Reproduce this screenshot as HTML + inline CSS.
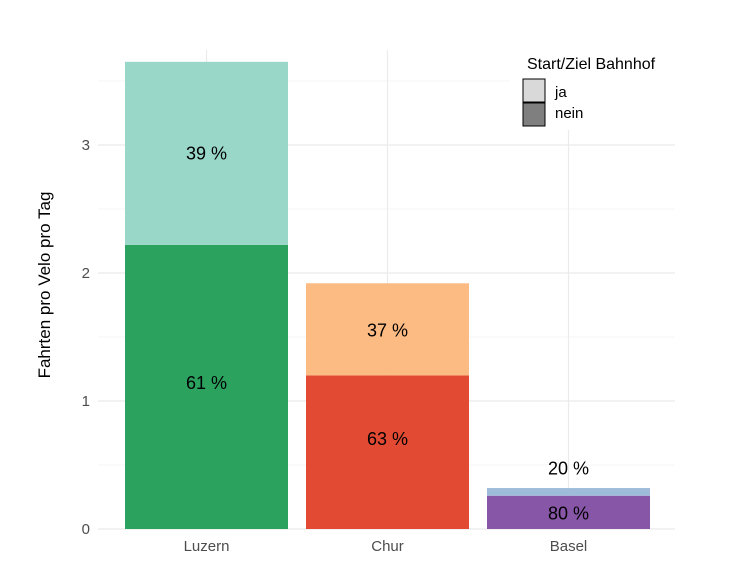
<!DOCTYPE html>
<html><head><meta charset="utf-8"><style>
body{margin:0;background:#fff}
text{font-family:"Liberation Sans",sans-serif}
</style></head><body>
<svg width="740" height="562" id="chart">
<rect width="740" height="562" fill="#fff"/>
<g id="grid"></g>
<g id="bars"></g>
<g id="labels"></g>
<text transform="translate(50,285) rotate(-90)" text-anchor="middle" font-size="17" fill="#000">Fahrten pro Velo pro Tag</text>
<g>
<rect x="510" y="50" width="180" height="80" fill="#fff"/>
<text x="527" y="69" font-size="16" fill="#000">Start/Ziel Bahnhof</text>
<rect x="523" y="79" width="22" height="23" fill="#d9d9d9" stroke="#000" stroke-width="1"/>
<rect x="523" y="103" width="22" height="23" fill="#7f7f7f" stroke="#000" stroke-width="1"/>
<text x="555" y="97" font-size="15" fill="#000">ja</text>
<text x="555" y="118" font-size="15" fill="#000">nein</text>
</g>
</svg>
<script>
const categories=["Luzern","Chur","Basel"];
const neinValues=[2.22,1.20,0.26];
const jaValues=[1.43,0.72,0.06];
const neinLabels=["61 %","63 %","80 %"];
const jaLabels=["39 %","37 %","20 %"];
const labelPosNein=[1.15,0.71,0.13];
const labelPosJa=[2.94,1.56,0.48];
const yTicks=[0,1,2,3];
const neinColors=["#2ca25f","#e34a33","#8856a7"];
const jaColors=["#99d8c9","#fdbb84","#9ebcda"];
const NS="http://www.w3.org/2000/svg";
const gLeft=98,gRight=675,pLeft=116,pRight=659,pTop=50,y0=529,perUnit=128;
const yS=v=>y0-v*perUnit;
const band=(pRight-pLeft)/categories.length;
const xc=i=>pLeft+band*(i+0.5);
const bw=163;
function mk(tag,attrs,parent){const e=document.createElementNS(NS,tag);for(const k in attrs)e.setAttribute(k,attrs[k]);parent.appendChild(e);return e;}
const grid=document.getElementById('grid'),bars=document.getElementById('bars'),labels=document.getElementById('labels');
for(let v=0;v<=3.5;v+=0.5){
 const l=mk('line',{x1:gLeft,x2:gRight,y1:yS(v),y2:yS(v),stroke:v%1===0?'#ebebeb':'#f3f3f3','stroke-width':v%1===0?1.2:0.8},grid);
 
 
}
yTicks.forEach(t=>{
 const tx=mk('text',{x:90,y:yS(t)+5,'text-anchor':'end','font-size':15,fill:'#4d4d4d'},grid);
 tx.textContent=t;
 
 
});
categories.forEach((c,i)=>{
 const gl=mk('line',{x1:xc(i),x2:xc(i),y1:pTop,y2:y0,stroke:'#ebebeb','stroke-width':1.2},grid);
 
 
 const tx=mk('text',{x:xc(i),y:551,'text-anchor':'middle','font-size':15,fill:'#4d4d4d'},grid);
 tx.textContent=c;
 
 
 const n=neinValues[i],j=jaValues[i];
 const rb=mk('rect',{x:xc(i)-bw/2,y:yS(n),width:bw,height:yS(0)-yS(n),fill:neinColors[i]},bars);
 
 
 const rt=mk('rect',{x:xc(i)-bw/2,y:yS(n+j),width:bw,height:yS(n)-yS(n+j),fill:jaColors[i]},bars);
 
 
 const ln=mk('text',{x:xc(i),y:yS(labelPosNein[i])+7,'text-anchor':'middle','font-size':18,fill:'#000'},labels);
 ln.textContent=neinLabels[i];
 
 
 const lj=mk('text',{x:xc(i),y:yS(labelPosJa[i])+7,'text-anchor':'middle','font-size':18,fill:'#000'},labels);
 lj.textContent=jaLabels[i];
 
 
});
</script>
</body></html>
